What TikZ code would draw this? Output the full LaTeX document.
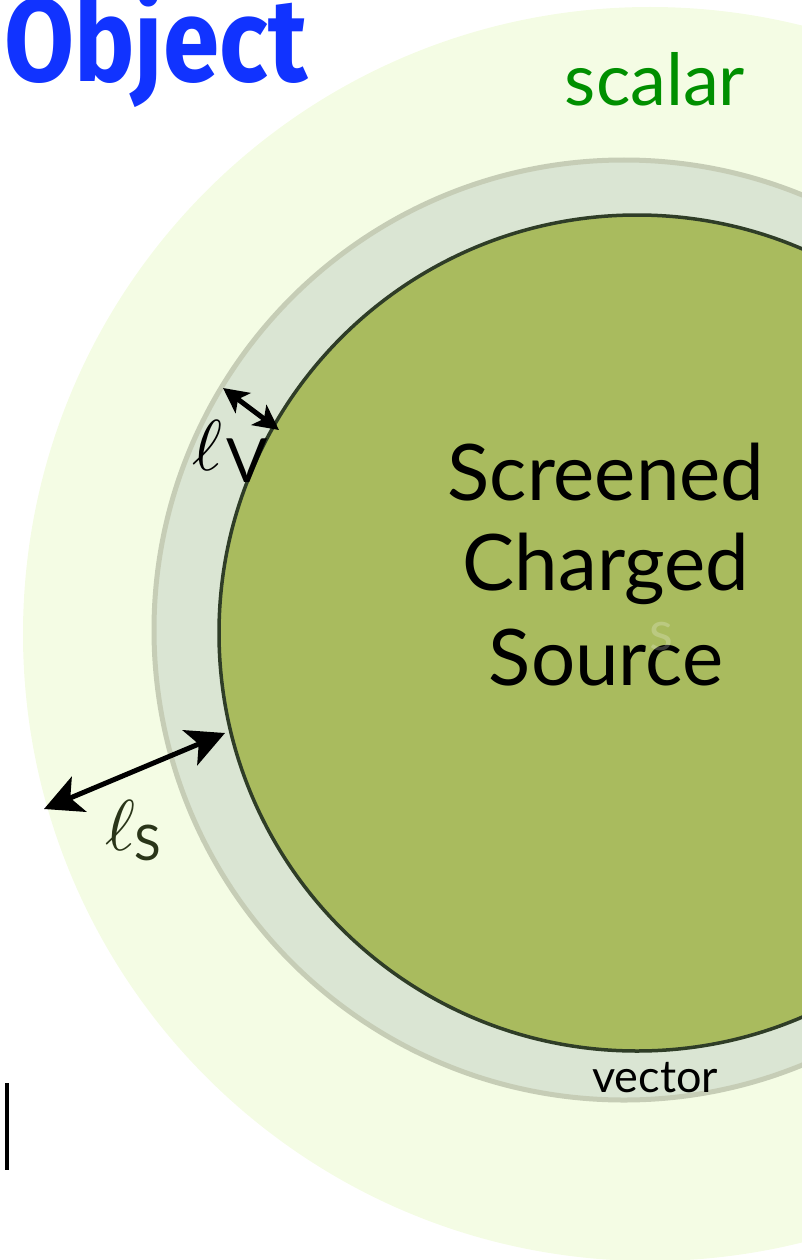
\documentclass[tikz,border=0pt]{standalone}
\usepackage{fontspec}
\setmainfont{Lato}
\newfontfamily\titlefont{Fira Sans}
\usetikzlibrary{arrows.meta}

\definecolor{scalarfill}{HTML}{F4FCE4}
\definecolor{vecfill}{HTML}{DAE5D3}
\definecolor{vecedge}{HTML}{C6CDB6}
\definecolor{srcfill}{HTML}{A9BB5E}
\definecolor{srcedge}{HTML}{2F3D27}
\definecolor{titleblue}{HTML}{1133FF}
\definecolor{scalargreen}{HTML}{008F00}
\definecolor{lenolive}{HTML}{2A3519}

\tikzset{
  lenarrow/.style={line width=5pt, {Stealth[length=#1, width=#1, inset=0.25*#1]}-{Stealth[length=#1, width=#1, inset=0.25*#1]}},
  bigtext/.style={font=\fontsize{78}{78}\selectfont, anchor=base, text=black},
  ellsym/.style={scale=7.2, anchor=base west, inner sep=0pt},
}

\begin{document}
\begin{tikzpicture}[x=1pt, y=-1pt]
\useasboundingbox (0,0) rectangle (801,1260);

% nested regions: scalar halo, vector shell, charged core
\fill[scalarfill] (650,634) circle (627);
\filldraw[fill=vecfill, draw=vecedge, line width=5pt] (624,630) circle (470);
\filldraw[fill=srcfill, draw=srcedge, line width=3.5pt] (637,633) circle (418);

% labels
\node[font=\titlefont\bfseries\fontsize{118}{118}\selectfont, text=titleblue,
      anchor=base west, xscale=0.86, inner sep=0pt] (title) at (4,82) {Object};
\node[font=\fontsize{72}{72}\selectfont, text=scalargreen, anchor=base, inner sep=0pt]
      (scal) at (655,106) {scalar};

\node[bigtext] (src1) at (606,500) {Screened};
\node[bigtext] (src2) at (606,590) {Charged};
\node[bigtext] (src3) at (606,685) {Source};
\node[font=\fontsize{55}{55}\selectfont, text=white, opacity=0.22, anchor=base, inner sep=0pt]
      (ghost) at (661,650) {s};

\node[font=\fontsize{45}{45}\selectfont, anchor=base, inner sep=0pt] (vec) at (655,1092) {vector};

% screening lengths
\node[ellsym] (lvell) at (191,470) {$\ell$};
\node[font=\fontsize{61}{61}\selectfont, anchor=base west, inner sep=0pt] (lvsub) at (226,482) {V};
\node[ellsym, text=lenolive] (lsell) at (104,850) {$\ell$};
\node[font=\fontsize{49}{49}\selectfont, text=lenolive, anchor=base west, inner sep=0pt] (lssub) at (134,860) {S};

\coordinate (lva) at (223,388);
\coordinate (lvb) at (279,430);
\coordinate (lsa) at (44,809);
\coordinate (lsb) at (225,733);
\draw[lenarrow=25pt] (lva) -- (lvb);
\draw[lenarrow=38pt] (lsa) -- (lsb);

% edge rule
\coordinate (bar1) at (7,1083);
\coordinate (bar2) at (7,1170);
\draw[line width=4pt] (bar1) -- (bar2);
\end{tikzpicture}
\end{document}
